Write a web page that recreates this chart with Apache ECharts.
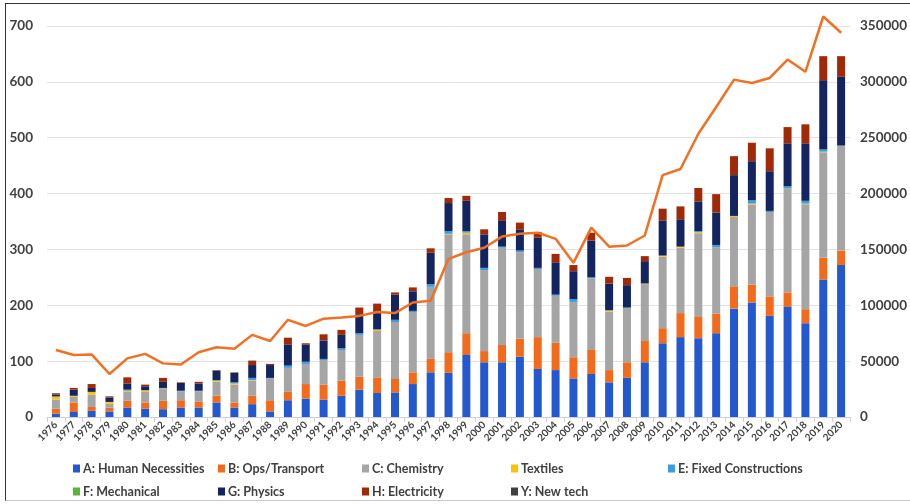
<!DOCTYPE html>
<html>
<head>
<meta charset="utf-8">
<script src="https://cdn.jsdelivr.net/npm/echarts@6/dist/echarts.min.js"></script>
<style>
html,body{margin:0;padding:0;background:#fff;}
#wrap{position:relative;width:910px;height:504px;overflow:hidden;}
#chart{position:absolute;left:0;top:0;width:910px;height:504px;}
#frame{position:absolute;left:5px;top:3px;width:940px;height:496px;border-left:1.5px solid #333;border-top:1.5px solid #333;border-bottom:1px solid #c8c8c8;pointer-events:none;}
</style>
</head>
<body>
<div id="wrap"><div id="chart"></div><div id="frame"></div></div>
<script>
const years = ['1976','1977','1978','1979','1980','1981','1982','1983','1984','1985','1986','1987','1988','1989','1990','1991','1992','1993','1994','1995','1996','1997','1998','1999','2000','2001','2002','2003','2004','2005','2006','2007','2008','2009','2010','2011','2012','2013','2014','2015','2016','2017','2018','2019','2020'];

const seriesNames = ['A: Human Necessities','B: Ops/Transport','C: Chemistry','Textiles','E: Fixed Constructions','F: Mechanical','G: Physics','H: Electricity','Y: New tech'];
const seriesColors = ['#2358CF','#F26B1D','#A5A5A5','#FFC000','#3D9BE0','#5BB531','#13245F','#A02A08','#404040'];

const humanNecessities = [6,9,11,10,17,15,14,17,17,26,17,23,10,30,33,31,38,49,43,44,59,80,79,111,98,98,108,86,84,69,77,62,70,98,132,143,141,150,194,205,181,197,168,246,272];
const opsTransport     = [9,17,7,7,12,11,15,13,11,12,9,15,20,15,26,27,27,23,28,24,21,24,37,39,20,31,32,57,49,38,43,22,28,38,27,43,38,35,40,32,35,26,25,39,26];
const chemistry        = [16,10,22,7,16,20,21,16,18,25,32,27,39,43,36,44,55,75,83,102,108,129,211,177,145,174,155,122,84,99,128,105,97,102,128,117,150,119,124,143,151,185,188,189,188];
const textiles         = [5,2,5,3,2,2,1,0,0,2,2,1,0,0,0,0,0,0,2,0,0,0,1,3,0,0,0,0,0,0,0,2,0,1,2,2,2,0,2,2,0,1,1,1,0];
const fixedConstr      = [1,0,0,0,2,0,1,1,1,1,2,4,1,4,4,2,3,3,1,4,2,5,5,3,4,2,3,2,2,5,2,0,1,0,0,0,2,4,0,6,2,4,5,4,0];
const mechanical       = [0,0,0,0,0,0,0,0,0,0,0,0,0,0,0,0,0,0,0,0,0,0,0,0,0,0,0,0,0,0,0,0,0,0,0,0,0,0,0,0,0,0,0,0,0];
const physics          = [3,11,7,8,11,7,11,14,13,17,17,23,23,38,31,33,24,34,31,45,35,56,50,54,60,46,38,54,58,50,66,48,40,40,63,49,53,58,73,70,71,77,103,124,123];
const electricity      = [2,3,7,2,11,3,7,1,3,1,1,8,2,12,2,11,9,12,15,4,7,8,9,9,9,16,12,10,15,11,14,12,13,9,21,23,24,33,34,33,41,29,34,43,37];
const newTech          = [1,0,0,0,0,0,0,0,0,0,0,0,0,0,0,0,0,0,0,0,0,0,0,0,0,0,0,0,0,0,0,0,0,0,0,0,0,0,0,0,0,0,0,0,0];

const totalLine = [60000,55500,56000,38500,52500,56500,48000,47000,58000,62500,61000,73500,68000,87000,81500,88000,89000,90500,94000,93000,102500,104000,141500,147500,151500,161500,164000,165000,159500,138000,169500,152500,153500,162500,216500,222000,253500,277500,302000,299000,303500,320000,309000,358500,344000];

const leftTicks = [0,100,200,300,400,500,600,700];
const rightTicks = [0,50000,100000,150000,200000,250000,300000,350000];

const stackData = [humanNecessities,opsTransport,chemistry,textiles,fixedConstr,mechanical,physics,electricity,newTech];

const chart = echarts.init(document.getElementById('chart'));
const font = 'Lato, "Open Sans", sans-serif';
const series = stackData.map((d,i)=>({
  name: seriesNames[i], type:'bar', stack:'total', data:d, barWidth:8,
  itemStyle:{color:seriesColors[i]}, yAxisIndex:0, z:2
}));
series.push({
  name:'Total', type:'line', yAxisIndex:1, data: totalLine, symbol:'none', clip:false,
  lineStyle:{color:'#F07024', width:2.5}, itemStyle:{color:'#F07024'}, z:3
});

const legendPos = [[68,457],[213,457],[357,457],[506,457],[663,457],[68,480],[213,480],[357,480],[506,480]];
const legends = seriesNames.map((n,i)=>({
  data:[n], left:legendPos[i][0], top:legendPos[i][1], icon:'rect', itemWidth:7, itemHeight:8, itemGap:4,
  textStyle:{fontFamily:font, fontSize:12.5, fontWeight:'bold', color:'#404040', padding:[0,0,0,-2]},
  selectedMode:false
}));

chart.setOption({
  animation:false,
  backgroundColor:'#fff',
  grid:{left:47, right:58, top:26, bottom:87},
  legend: legends,
  xAxis:{
    type:'category', data:years,
    axisLine:{lineStyle:{color:'#d0d0d0'}},
    axisTick:{show:true, length:5, lineStyle:{color:'#d0d0d0'}},
    axisLabel:{rotate:45, fontFamily:font, fontSize:10, fontWeight:'bold', color:'#404040', margin:6, interval:0}
  },
  yAxis:[{
    type:'value', min:leftTicks[0], max:leftTicks[leftTicks.length-1], interval:100,
    axisLine:{show:false}, axisTick:{show:false},
    splitLine:{lineStyle:{color:'#e3e3e3'}},
    axisLabel:{fontFamily:font, fontSize:13.5, fontWeight:'bold', color:'#404040', margin:14}
  },{
    type:'value', min:rightTicks[0], max:rightTicks[rightTicks.length-1], interval:50000,
    axisLine:{show:false}, axisTick:{show:false},
    splitLine:{show:false},
    axisLabel:{fontFamily:font, fontSize:13.5, fontWeight:'bold', color:'#404040', margin:10,
      formatter:(v)=>String(v)}
  }],
  series: series
});
</script>
</body>
</html>
